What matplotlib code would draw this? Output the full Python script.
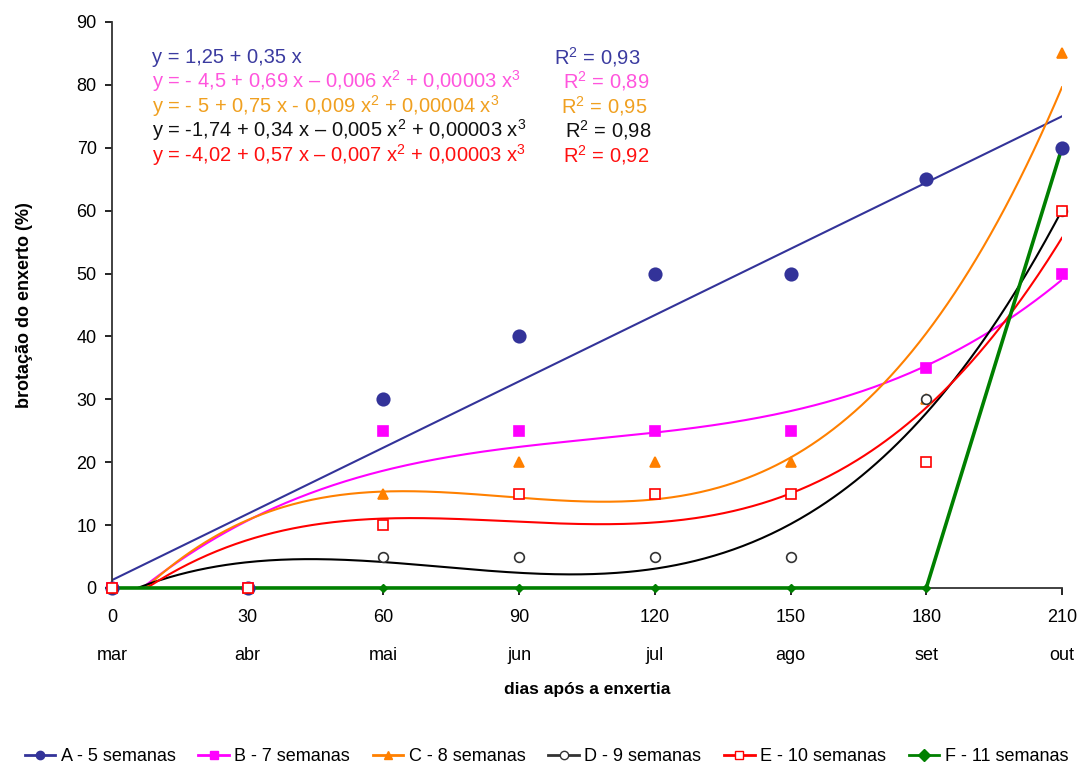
#brotacao.py
#brotação do enxerto ao longo dos meses, com ajustes polinomiais
import matplotlib
matplotlib.use("Agg")
import matplotlib.pyplot as plt
from matplotlib.lines import Line2D
import numpy as np

dias = [0, 30, 60, 90, 120, 150, 180, 210]
meses = ["mar", "abr", "mai", "jun", "jul", "ago", "set", "out"]

brot_a = [0, 0, 30, 40, 50, 50, 65, 70]
brot_b = [0, 0, 25, 25, 25, 25, 35, 50]
brot_c = [0, 0, 15, 20, 20, 20, 30, 85]
brot_d = [0, 0, 5, 5, 5, 5, 30, 60]
brot_e = [0, 0, 10, 15, 15, 15, 20, 60]
brot_f = [0, 0, 0, 0, 0, 0, 0, 70]

rotulos = ["A - 5 semanas", "B - 7 semanas", "C - 8 semanas",
           "D - 9 semanas", "E - 10 semanas", "F - 11 semanas"]

equacoes = [
    ("y = 1,25 + 0,35 x", "R$^2$ = 0,93"),
    ("y = - 4,5 + 0,69 x \u2013 0,006 x$^2$ + 0,00003 x$^3$", "R$^2$ = 0,89"),
    ("y = - 5 + 0,75 x - 0,009 x$^2$ + 0,00004 x$^3$", "R$^2$ = 0,95"),
    ("y = -1,74 + 0,34 x \u2013 0,005 x$^2$ + 0,00003 x$^3$", "R$^2$ = 0,98"),
    ("y = -4,02 + 0,57 x \u2013 0,007 x$^2$ + 0,00003 x$^3$", "R$^2$ = 0,92"),
]
cores_eq = ["#3b3ba0", "#ff55dd", "#f0a020", "#111111", "#ff1010"]
pos_r2 = [0.465, 0.475, 0.473, 0.477, 0.475]

plt.rcParams["font.family"] = ["Liberation Sans", "DejaVu Sans"]
plt.rcParams["mathtext.fontset"] = "custom"
plt.rcParams["mathtext.rm"] = "Liberation Sans"

fig = plt.figure(figsize=(10.8, 7.69), dpi=100)
ax = fig.add_axes([0.1037, 0.2354, 0.8796, 0.736])

x = np.array(dias, dtype=float)
xs = np.linspace(0, 210, 400)

#series: (dados, cor, marcador, tamanho, preenchido, grau do ajuste)
series = [
    (brot_a, "#333399", "o", 9, True, 1),
    (brot_b, "#ff00ff", "s", 6.5, True, 3),
    (brot_c, "#ff8000", "^", 7, True, 3),
    (brot_d, "#333333", "o", 7, False, 3),
    (brot_e, "#ff0000", "s", 7.5, False, 3),
]

for dados, cor, mk, ms, cheio, grau in series:
    coef = np.polyfit(x, dados, grau)
    ys = np.polyval(coef, xs)
    lc = "#000000" if cor == "#333333" else cor
    ax.plot(xs, ys, color=lc, lw=1.5, zorder=2)

for dados, cor, mk, ms, cheio, grau in series:
    ax.plot(x, dados, ls="none", marker=mk, ms=ms, color=cor,
            mfc=cor if cheio else "white", mew=1.2, clip_on=False, zorder=4)

ax.plot(x, brot_f, color="#008000", lw=2.6, marker="D", ms=4,
        clip_on=False, zorder=3)

ax.set_xlim(0, 210)
ax.set_ylim(0, 90)
ax.set_xticks(dias)
ax.set_xticklabels([f"{d}\n\n{m}" for d, m in zip(dias, meses)],
                   fontsize=13, linespacing=1.15)
ax.set_yticks(range(0, 91, 10))
ax.tick_params(axis="y", labelsize=13, length=5, width=1.2, pad=6)
ax.tick_params(axis="x", length=5, width=1.2, pad=10)
for lado in ["top", "right"]:
    ax.spines[lado].set_visible(False)
for lado in ["left", "bottom"]:
    ax.spines[lado].set_linewidth(1.3)
    ax.spines[lado].set_color("#333333")

ax.set_ylabel("brotação do enxerto (%)", fontsize=13, fontweight="bold",
              labelpad=31)
ax.set_xlabel("dias após a enxertia", fontsize=12.5, fontweight="bold",
              labelpad=13)

#equações dos ajustes
for i, ((eq, r2), cor) in enumerate(zip(equacoes, cores_eq)):
    yy = 0.938 - i * 0.0432
    ax.text(0.042, yy, eq, transform=ax.transAxes, color=cor,
            fontsize=14.5, va="center")
    ax.text(pos_r2[i], yy, r2, transform=ax.transAxes, color=cor,
            fontsize=14.5, va="center")

cores_leg = ["#333399", "#ff00ff", "#ff8000", "#333333", "#ff0000", "#008000"]
marc_leg = ["o", "s", "^", "o", "s", "D"]
handles = []
for cor, mk, i in zip(cores_leg, marc_leg, range(6)):
    cheio = i not in (3, 4)
    handles.append(Line2D([], [], color=cor, marker=mk, ms=6, lw=2,
                          mfc=cor if cheio else "white", mew=1))
fig.legend(handles, rotulos, loc="center", bbox_to_anchor=(0.506, 0.016),
           ncol=6, frameon=False, handlelength=1.7,
           handletextpad=0.3, columnspacing=1.25,
           prop={"family": ["Liberation Sans"], "size": 13})

fig.savefig("out.png", dpi=100)
